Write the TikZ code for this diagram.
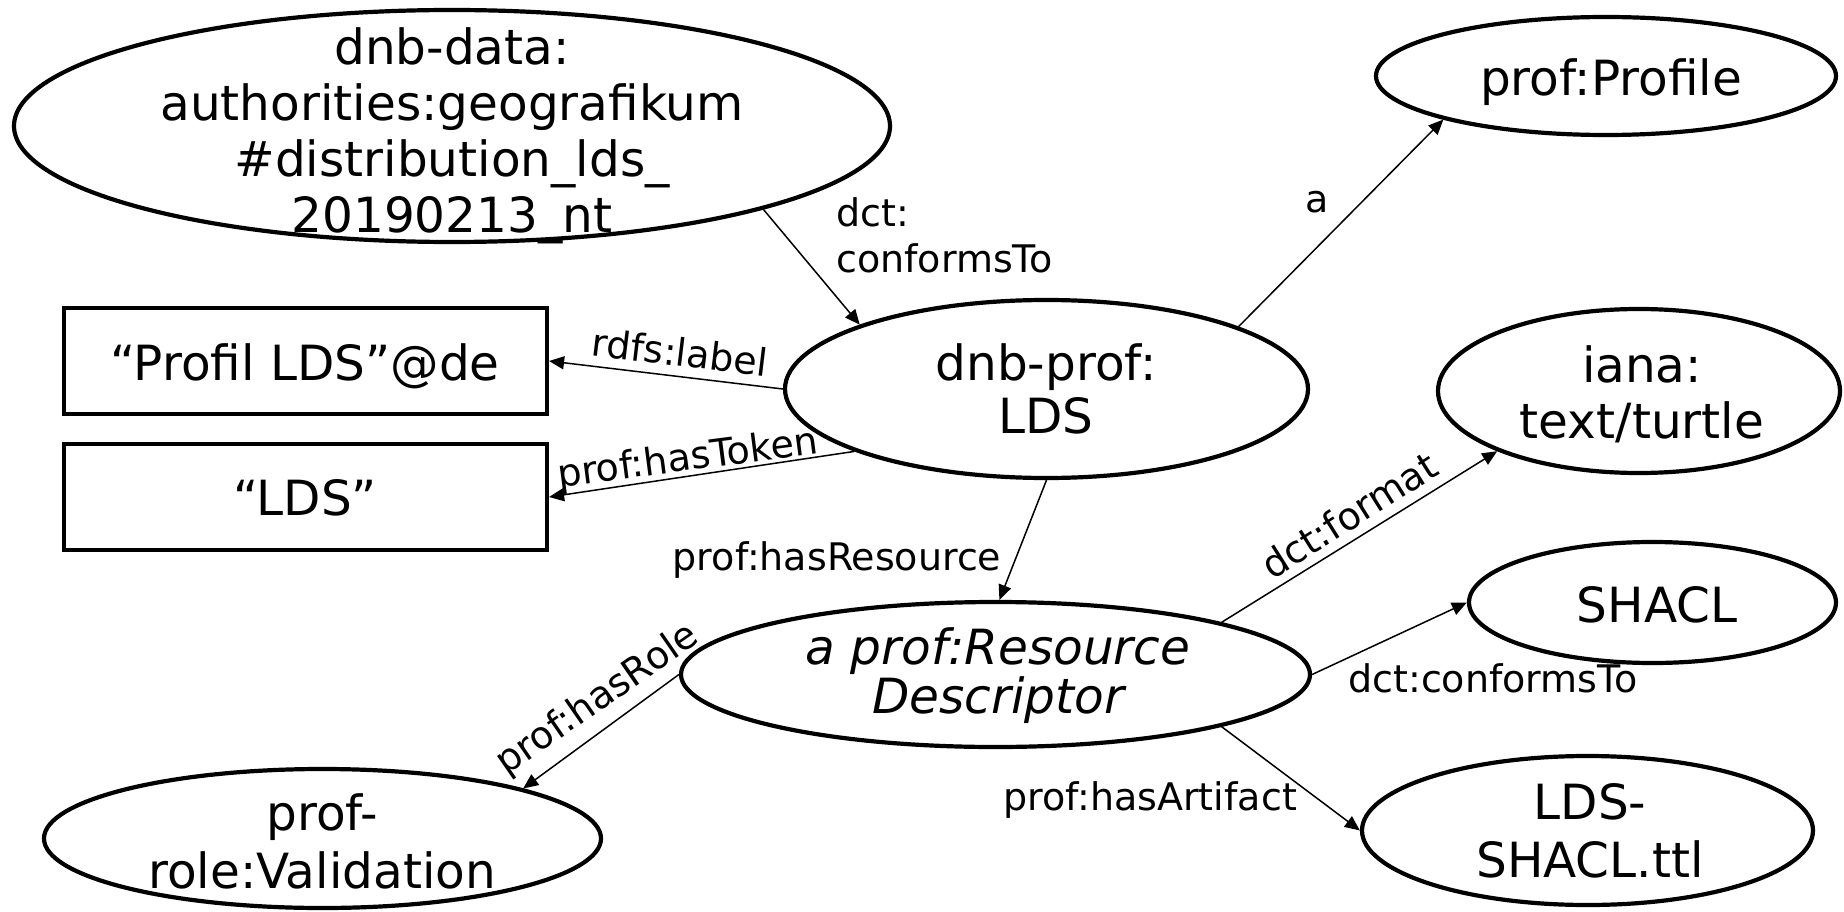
\documentclass[tikz,border=0pt]{standalone}
\usepackage{fontspec}
\setmainfont{DejaVu Sans}
\usetikzlibrary{arrows.meta,shapes.geometric}
\newcommand\NF[1]{\fontsize{48.5}{#1}\selectfont}
\begin{document}
\begin{tikzpicture}[x=1pt,y=-1pt,
  ell/.style={draw, line width=4.2pt, ellipse, inner sep=0pt},
  box/.style={draw, line width=4.2pt, rectangle, inner sep=0pt},
  txt/.style={inner sep=0pt, align=center},
  lbl/.style={inner sep=0pt, align=left, font=\fontsize{38}{46}\selectfont},
  arr/.style={line width=1.5pt, -{Triangle[length=15pt,width=13pt]}}
]
\fill[white] (0,0) rectangle (1844,912);
\useasboundingbox (0,0) rectangle (1844,912);

% shapes
\node[ell, minimum width=876pt, minimum height=232pt] (dnbdata) at (452,126) {};
\node[ell, minimum width=460pt, minimum height=118pt] (profile) at (1606,76) {};
\node[ell, minimum width=523pt, minimum height=178pt] (dnbprof) at (1046.5,389) {};
\node[ell, minimum width=402pt, minimum height=164pt] (iana) at (1639,391) {};
\node[ell, minimum width=629pt, minimum height=145pt] (resdesc) at (995.5,674.5) {};
\node[ell, minimum width=367pt, minimum height=121pt] (shacl) at (1652.5,602.5) {};
\node[ell, minimum width=451pt, minimum height=149pt] (artifact) at (1587.5,830.5) {};
\node[ell, minimum width=557pt, minimum height=139pt] (valid) at (322.5,838.5) {};
\node[box, minimum width=483pt, minimum height=106pt] (plabel) at (305.5,361) {};
\node[box, minimum width=483pt, minimum height=106pt] (ptoken) at (305.5,497) {};

% node texts
\node[txt, font=\NF{56}] (dnbdataT) at (452,136) {dnb-data:\\authorities:geografikum\\\#distribution\_lds\_\\20190213\_nt};
\node[txt, font=\NF{56}] (profileT) at (1611,82) {prof:Profile};
\node[txt, font=\NF{53}] (dnbprofT) at (1046,388.7) {dnb-prof:\\LDS};
\node[txt, font=\NF{56}] (ianaT) at (1642,394.4) {iana:\\text/turtle};
\node[txt, font=\NF{49}\itshape] (resdescT) at (998,676) {a prof:Resource\\Descriptor};
\node[txt, font=\NF{56}] (shaclT) at (1657,605) {SHACL};
\node[txt, font=\NF{58}] (artifactT) at (1590,831) {LDS-\\SHACL.ttl};
\node[txt, font=\NF{58}] (validT) at (322,841) {prof-\\role:Validation};
\node[txt, font=\NF{56}] (plabelT) at (305,366) {“Profil LDS”@de};
\node[txt, font=\NF{56}] (ptokenT) at (305,498) {“LDS”};

% connectors
\draw[arr] (dnbdata.-15) -- (dnbprof.161);
\draw[arr] (dnbprof.18) -- (profile.195);
\draw[arr] (dnbprof.west) -- (plabel.east);
\draw[arr] (dnbprof.198) -- (ptoken.east);
\draw[arr] (dnbprof.south) -- (resdesc.87);
\draw[arr] (resdesc.west) -- (valid.14);
\draw[arr] (resdesc.13) -- (iana.203);
\draw[arr] (resdesc.east) -- (shacl.west);
\draw[arr] (resdesc.-13) -- (artifact.west);

% connector labels
\node[lbl, anchor=west] (l1) at (836,235) {dct:\\conformsTo};
\node[lbl] (l2) at (1317,202) {a};
\node[lbl, rotate=-6.9] (l3) at (680,352) {rdfs:label};
\node[lbl, rotate=7.4] (l4) at (688,460) {prof:hasToken};
\node[lbl] (l5) at (837,560) {prof:hasResource};
\node[lbl, rotate=34.7] (l6) at (598,700) {prof:hasRole};
\node[lbl, rotate=32.2] (l7) at (1349,515) {dct:format};
\node[lbl] (l8) at (1493,678) {dct:conformsTo};
\node[lbl] (l9) at (1150,800) {prof:hasArtifact};
\end{tikzpicture}
\end{document}
